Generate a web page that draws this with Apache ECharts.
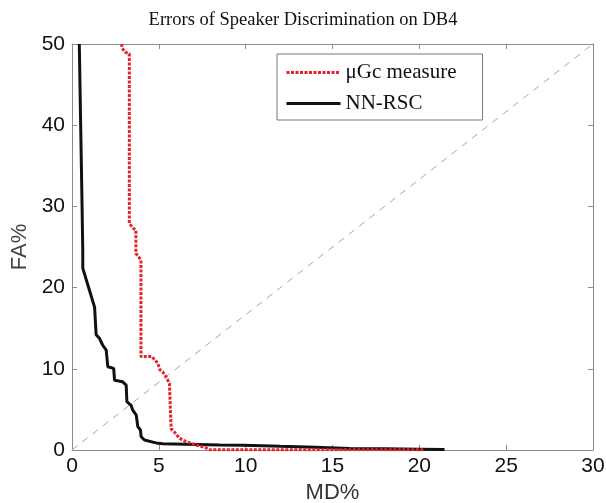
<!DOCTYPE html>
<html>
<head>
<meta charset="utf-8">
<script src="https://cdn.jsdelivr.net/npm/echarts@6/dist/echarts.min.js"></script>
<style>
  html, body { margin: 0; padding: 0; background: #fff; }
  #chart { width: 606px; height: 503px; }
</style>
</head>
<body>
<div id="chart"></div>
<script>
// Error trade-off curves: missed detection (MD%) vs false acceptance (FA%)
const seriesNames = ['\u03bcGc measure', 'NN-RSC'];

// μGc measure curve
const mdMu = [2.86, 2.88, 3.05, 3.30, 3.30, 3.53, 3.68, 3.68, 3.97, 3.97, 4.60, 4.94, 5.07, 5.23, 5.42, 5.61, 5.71, 5.71, 5.90, 6.19, 6.57, 7.15, 7.73, 7.90, 20.3];
const faMu = [50.0, 49.5, 49.0, 48.8, 27.9, 27.3, 27.1, 24.2, 23.4, 11.5, 11.5, 10.7, 9.85, 9.6, 9.0, 8.2, 8.0, 2.6, 2.2, 1.44, 1.03, 0.62, 0.25, 0.02, 0.02];

// NN-RSC curve
const mdNN = [0.42, 0.50, 0.58, 0.62, 0.62, 1.00, 1.30, 1.39, 1.58, 1.77, 1.97, 2.06, 2.40, 2.45, 2.92, 3.12, 3.16, 3.40, 3.50, 3.70, 3.79, 3.94, 3.98, 4.17, 4.94, 5.23, 8.5, 9.86, 12.0, 14.0, 16.0, 18.0, 20.0, 21.45];
const faNN = [50.0, 40.0, 30.0, 24.6, 22.4, 19.7, 17.6, 14.2, 13.75, 12.9, 12.3, 10.26, 10.05, 8.6, 8.4, 8.0, 5.95, 5.5, 4.9, 4.3, 2.87, 2.46, 1.64, 1.23, 0.82, 0.78, 0.62, 0.6, 0.45, 0.35, 0.2, 0.15, 0.1, 0.05];

// Equal error reference line
const diagMD = [0, 30];
const diagFA = [0, 50];

const xTicks = { min: 0, max: 30, interval: 5 };
const yTicks = { min: 0, max: 50, interval: 10 };

const pairs = (xs, ys) => xs.map((x, i) => [x, ys[i]]);

const axisGray = '#8c8c8c';
const sans = 'Liberation Sans, Arial, sans-serif';
const serif = 'Liberation Serif, Times New Roman, serif';

const chart = echarts.init(document.getElementById('chart'), null, { renderer: 'canvas' });

const baseX = {
  type: 'value', min: xTicks.min, max: xTicks.max, interval: xTicks.interval,
  axisLine: { show: true, onZero: false, lineStyle: { color: axisGray, width: 1 } },
  axisTick: { show: true, inside: true, length: 5, lineStyle: { color: axisGray } },
  splitLine: { show: false }
};
const baseY = {
  type: 'value', min: yTicks.min, max: yTicks.max, interval: yTicks.interval,
  axisLine: { show: true, onZero: false, lineStyle: { color: axisGray, width: 1 } },
  axisTick: { show: true, inside: true, length: 5, lineStyle: { color: axisGray } },
  splitLine: { show: false }
};

chart.setOption({
  animation: false,
  backgroundColor: '#ffffff',
  title: {
    text: 'Errors of Speaker Discrimination on DB4',
    left: 'center',
    top: 6,
    textStyle: { fontFamily: serif, fontSize: 18.5, fontWeight: 'normal', color: '#111' }
  },
  grid: { left: 72, top: 44, right: 13, bottom: 53, containLabel: false, outerBoundsMode: 'none' },
  legend: {
    data: seriesNames,
    orient: 'vertical',
    left: 277,
    top: 54,
    itemWidth: 54,
    itemHeight: 14,
    itemGap: 10,
    padding: [8, 26, 6, 8],
    borderColor: '#777',
    borderWidth: 1,
    backgroundColor: '#fff',
    // line-only legend keys (no marker dot)
    itemStyle: { opacity: 0 },
    lineStyle: { width: 3 },
    textStyle: { fontFamily: serif, fontSize: 21, color: '#111' }
  },
  xAxis: [
    Object.assign({}, baseX, {
      position: 'bottom',
      name: 'MD%', nameLocation: 'middle', nameGap: 31,
      nameTextStyle: { fontFamily: sans, fontSize: 22, color: '#333' },
      axisLabel: { fontFamily: sans, fontSize: 21, color: '#111', margin: 6 }
    }),
    Object.assign({}, baseX, { position: 'top', axisLabel: { show: false } })
  ],
  yAxis: [
    Object.assign({}, baseY, {
      position: 'left',
      name: 'FA%', nameLocation: 'middle', nameGap: 41, nameRotate: 90,
      nameTextStyle: { fontFamily: sans, fontSize: 22, color: '#444' },
      axisLabel: { fontFamily: sans, fontSize: 21, color: '#111', margin: 7 }
    }),
    Object.assign({}, baseY, { position: 'right', axisLabel: { show: false } })
  ],
  series: [
    {
      name: 'diagonal',
      type: 'line',
      data: pairs(diagMD, diagFA),
      symbol: 'none',
      silent: true,
      lineStyle: { color: '#a8a8a8', width: 1, type: [7, 6] },
      z: 1
    },
    {
      name: seriesNames[0],
      type: 'line',
      data: pairs(mdMu, faMu),
      symbol: 'none',
      color: '#e3222b',
      lineStyle: { color: '#e3222b', width: 3, type: [3, 1.5], cap: 'butt' },
      z: 3
    },
    {
      name: seriesNames[1],
      type: 'line',
      data: pairs(mdNN, faNN),
      symbol: 'none',
      color: '#111',
      lineStyle: { color: '#111', width: 3 },
      z: 2
    }
  ]
});
</script>
</body>
</html>
